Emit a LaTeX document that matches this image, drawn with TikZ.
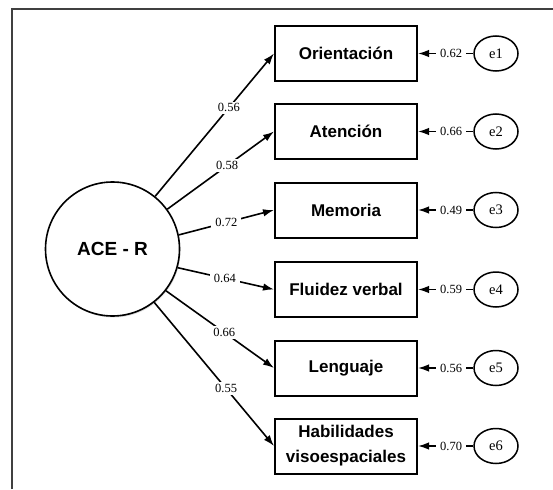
\documentclass[tikz,border=0pt]{standalone}
\usepackage{fontspec}
\setmainfont{Liberation Serif}
\setsansfont{Liberation Sans}
\usetikzlibrary{arrows.meta,shapes.geometric,shadows}
\begin{document}
\begin{tikzpicture}[x=1pt,y=-1pt,
    obs/.style={draw,fill=white,line width=2pt,minimum width=142pt,minimum height=55pt,align=center,
      font=\sffamily\bfseries\fontsize{17}{25}\selectfont,
      drop shadow={shadow xshift=1.2pt,shadow yshift=-1.2pt,opacity=0.25}},
    latent/.style={circle,draw,fill=white,line width=1.6pt,minimum size=134pt,inner sep=0pt,
      font=\sffamily\bfseries\fontsize{19}{21}\selectfont,
      drop shadow={shadow xshift=1pt,shadow yshift=-1.5pt,opacity=0.25}},
    err/.style={ellipse,draw,line width=1.5pt,minimum width=44pt,minimum height=35pt,inner sep=0pt,
      font=\fontsize{14.5}{16}\selectfont},
    load/.style={line width=1.6pt,-{Latex[length=11pt,width=7.5pt]}},
    coef/.style={fill=white,inner xsep=4pt,inner ysep=2pt,font=\fontsize{12.5}{14}\selectfont}]
    \useasboundingbox (0,0) rectangle (553,489);
    \draw[line width=2pt,black!75] (12,489) -- (12,9) -- (553,9);
    \node[latent] (ace) at (112.5,249) {ACE - R};
    \node[obs] (orient) at (346,53.5) {Orientación};
    \node[obs] (atenc) at (346,131.5) {Atención};
    \node[obs] (memo) at (346,210) {Memoria};
    \node[obs] (fluid) at (346,289.5) {Fluidez verbal};
    \node[obs] (lengu) at (346,368) {Lenguaje};
    \node[obs] (habil) at (346,446) {Habilidades\\visoespaciales};
    \node[err] (e1) at (496,53.5) {e1};
    \node[err] (e2) at (496,131.5) {e2};
    \node[err] (e3) at (496,210) {e3};
    \node[err] (e4) at (496,289.5) {e4};
    \node[err] (e5) at (496,368) {e5};
    \node[err] (e6) at (496,446) {e6};
    \draw[load] (ace.51) -- (orient.west) node[coef,pos=0.62] {0.56};
    \draw[load] (ace.36) -- (atenc.west) node[coef,pos=0.56] {0.58};
    \draw[load] (ace.12) -- (memo.west) node[coef,pos=0.5] {0.72};
    \draw[load] (ace.-16) -- (fluid.west) node[coef,pos=0.49] {0.64};
    \draw[load] (ace.-38) -- (lengu.west) node[coef,pos=0.54] {0.66};
    \draw[load] (ace.-52) -- (habil.west) node[coef,pos=0.6] {0.55};
    \draw[load] (e1.west) -- (orient.east) node[coef,pos=0.4] {0.62};
    \draw[load] (e2.west) -- (atenc.east) node[coef,pos=0.4] {0.66};
    \draw[load] (e3.west) -- (memo.east) node[coef,pos=0.4] {0.49};
    \draw[load] (e4.west) -- (fluid.east) node[coef,pos=0.4] {0.59};
    \draw[load] (e5.west) -- (lengu.east) node[coef,pos=0.4] {0.56};
    \draw[load] (e6.west) -- (habil.east) node[coef,pos=0.4] {0.70};
\end{tikzpicture}
\end{document}
